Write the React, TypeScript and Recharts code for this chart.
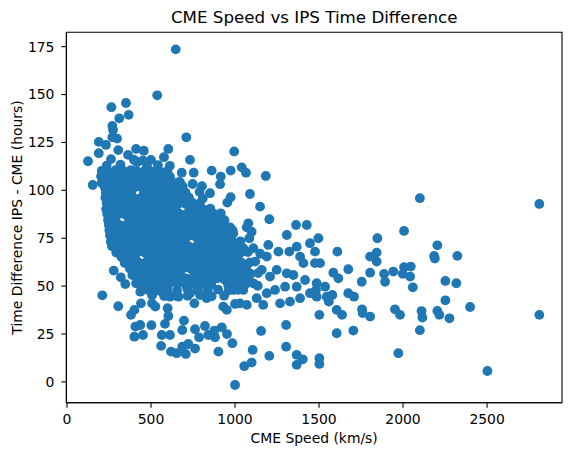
import React from 'react';
import { ScatterChart, Scatter, XAxis, YAxis, ReferenceArea } from 'recharts';

// [CME speed (km/s), time difference IPS - CME (hours)]
const upperPoints: [number, number][] = [
  [647,173.6],[537,149.6],[351,145.6],[264,143.4],[367,139.4],[311,137.6],[270,133.6],[274,131.5],
  [710,127.7],[270,127.7],[298,127],[189,125.3],[232,123.7],[603,121.6],[995,120.3],[411,121.6],
  [457,120.7],[189,119.4],[305,121],[125,115.2],[732,115.9],[577,117.3],[500,115.9],[417,114.7],
  [363,118.5],[1040,112],[683,109.2],[754,109.2],[153,102.8],[207,104],[228,108],[674,104],
  [748,103.3],[633,99.3],[246,96.7],
];

const midPoints: [number, number][] = [
  [861,110.3],[915,107.2],[974,110.3],[1065,109.2],[1183,107.5],[911,103.2],[851,98.5],[974,96.4],
  [954,93.6],[1089,98.1],[1149,91.5],[1204,84.9],[915,88],[907,83.7],[1079,82.8],[1070,80.7],
  [1099,78.4],[970,80.7],[990,77.6],[1085,75],[1363,81.9],[1427,81.9],[1308,76.7],[1496,75],
  [1446,72.4],[1367,70.6],[1198,71.5],[1258,68],[1323,68],[1109,69.8],[1049,69.8],[1189,65.4],
  [1387,65.4],[1407,62],[1476,62],[1506,62],[1248,58.5],[1308,56.7],[1347,55.8],[1208,55],
  [1159,58.5],[1417,53.2],[1486,51.5],[1536,49.7],[1367,49.7],[1298,49.7],[1238,48],[1446,46.3],
  [1486,44.5],[1387,43.7],[1327,41.9],[1268,41],[1168,40.2],[1070,40.2],[1000,40.7],[930,39.3],
  [1129,43.7],[1189,46.3],[1049,48],[1109,51.5],[1030,52.3],[990,48],[1546,44.5],
  [803,102.2],[789,99.2],[808,95.7],[853,90.4],[937,84.4],[1120,62.8],[1150,66.9],[1135,50.2],
];

const lowerPoints: [number, number][] = [
  [210,45.2],[305,39.5],[278,58.1],[320,54.6],[347,51.1],[381,35],[401,37.6],[407,28.9],
  [436,29.7],[401,23.6],[452,24.5],[502,29.6],[440,41],[506,41],[526,39.3],[599,38.5],
  [603,34.4],[583,30.3],[564,24.5],[613,24.5],[560,18.8],[619,15.8],[653,15],[686,18.4],
  [707,14.6],[722,19.8],[762,17.4],[696,32],[686,27.1],[762,27.5],[786,23.3],[821,29.2],
  [841,24.5],[881,23.3],[877,26.8],[921,28.5],[952,25],[984,20.2],[901,15.8],[1055,8.2],
  [1000,-1.6],[758,41],[951,37.6],[436,47.1],[411,51.5],[345,62],[276,75.8],[270,71.5],
  [256,80.2],[389,55.8],[524,48],[564,47.1],[613,44.5],[663,44.5],[732,46.3],[831,43.7],[1030,41],
];

const farPoints: [number, number][] = [
  [1847,75],[2006,78.8],[2100,95.9],[1609,68],[1804,65.4],[1843,67.5],[1843,62.8],[1476,68],
  [1674,58.8],[1804,57],[1754,52.3],[1887,56.4],[1942,57.6],[2006,59.9],[2046,60.2],[2042,55],
  [1893,52.3],[2058,49.4],[1585,57],[1615,54.1],[1482,48],[1558,41.9],[1579,45.4],[1605,37.6],
  [1637,35],[1674,46.3],[1708,44.5],[1756,37.9],[1760,35.9],[1804,34.1],[1952,37.9],[1982,35],
  [2110,37],[2100,27],[1972,15],[1704,26.8],[1605,25.4],[1502,35],[1304,29.7],[1155,26.6],
  [1105,16.7],[1099,10.1],[1204,13.6],[1304,18.4],[1367,14.1],[1403,11.8],[1367,8.9],[1502,12.4],
  [1502,9.4],[2204,71.3],[2185,65.8],[2189,64.4],[2323,65.8],[1998,56.4],[2252,52.7],[2317,51.5],
  [2252,42.6],[2399,39.1],[2115,33.6],[2204,37.1],[2216,35],[2276,33.2],[2502,5.7],[2811,92.9],
  [2811,35],
];

const coreUpper: [number, number][] = [
  [262,116.3],[398,116.0],[452,115.6],
  [236,112.9],[318,113.4],[476,112.6],[541,113.2],[612,112.8],
  [207,110.2],[246,109.8],[289,110.5],[335,110.1],[381,110.6],[418,109.9],[463,110.3],[512,109.7],[547,110.4],[596,110.0],
  [203,107.4],[239,107.9],[281,107.5],[317,107.8],[362,107.3],[399,107.7],[441,107.6],[484,107.2],[526,107.9],[569,107.5],[612,107.3],
  [219,104.9],[258,104.5],[297,104.8],[342,104.4],[378,104.9],[421,104.6],[459,104.3],[503,104.8],[542,104.5],[587,104.9],[624,104.6],[668,104.4],
  [224,101.7],[279,102.1],[318,101.8],[361,102.2],[402,101.6],[437,101.9],[478,102.0],[521,101.7],[563,102.1],[601,101.8],[641,101.6],[689,102.0],
  [231,99.2],[262,98.8],[301,99.1],[339,98.9],[383,99.3],[458,99.0],[497,99.2],[541,98.8],[582,99.1],[622,98.9],[663,99.3],[706,98.8],
  [228,96.2],[283,95.9],[322,96.3],[362,96.0],[401,95.8],[441,96.2],[479,96.1],[519,95.7],[561,96.3],[603,95.9],[644,96.1],[684,95.8],[726,96.2],
  [236,93.4],[264,93.0],[303,93.3],[344,92.9],[384,93.4],[423,93.1],[462,93.0],[501,93.5],[542,93.2],[583,92.9],[626,93.3],[665,93.1],[707,92.8],[748,93.4],[790,93.2],
  [233,90.2],[285,90.6],[325,90.3],[366,90.5],[405,90.1],[444,90.6],[483,90.4],[523,90.2],[564,90.5],[604,90.3],[646,90.7],[729,90.4],[770,90.6],[811,90.1],
];

const coreMiddle: [number, number][] = [
  [239,87.7],[266,87.3],[307,87.6],[347,87.4],[388,87.8],[426,87.2],[466,87.5],[505,87.7],[546,87.3],[587,87.6],[627,87.4],[668,87.8],[709,87.5],[751,87.2],[792,87.6],[834,87.4],[874,87.7],
  [244,84.5],[288,84.9],[369,84.8],[409,84.4],[448,84.7],[487,84.9],[528,84.5],[569,84.8],[609,84.6],[649,84.4],[690,84.9],[731,84.7],[772,84.5],[813,84.8],[855,84.6],[896,84.9],
  [249,81.9],[270,81.6],[311,82.0],[351,81.7],[391,81.9],[431,81.5],[470,81.8],[511,82.0],[552,81.6],[592,81.9],[632,81.7],[673,82.1],[714,81.8],[755,81.6],[797,81.9],[838,81.7],[878,82.0],[919,81.5],
  [252,79.2],[292,78.8],[333,79.1],[374,78.9],[413,79.3],[452,78.7],[492,79.0],[533,79.2],[573,78.8],[613,79.1],[654,78.9],[695,79.3],[736,78.8],[777,79.0],[819,79.2],[860,78.9],[901,79.1],[942,78.8],[985,79.2],
  [256,76.4],[276,76.0],[316,76.3],[356,76.1],[396,76.5],[435,75.9],[474,76.2],[515,76.4],[556,76.0],[596,76.3],[637,76.1],[677,76.5],[718,76.0],[759,76.2],[801,76.4],[842,75.9],[883,76.3],[924,76.1],[966,76.4],
  [261,73.2],[297,73.6],[338,73.3],[379,73.5],[417,73.1],[456,73.4],[497,73.7],[538,73.2],[578,73.5],[618,73.3],[659,73.6],[700,73.1],[782,73.6],[823,73.2],[864,73.5],[905,73.3],[947,73.6],[988,73.2],[1032,73.4],
  [268,70.8],[322,70.4],[361,70.7],[400,70.5],[440,70.9],[479,70.3],[519,70.6],[560,70.8],[600,70.4],[641,70.7],[682,70.5],[723,70.9],[764,70.4],[805,70.6],[846,70.8],[887,70.3],[929,70.7],[970,70.5],[1012,70.8],
];

const coreLower: [number, number][] = [
  [293,67.6],[343,68.0],[383,67.7],[422,67.9],[462,67.5],[501,67.8],[541,68.1],[582,67.6],[622,67.9],[663,67.7],[704,68.0],[745,67.5],[786,67.8],[828,68.1],[869,67.6],[910,67.9],[951,67.7],[993,68.0],[1035,67.6],[1076,67.8],
  [324,65.2],[366,64.8],[405,65.1],[484,65.3],[523,64.7],[564,65.0],[604,65.2],[645,64.8],[686,65.1],[727,64.9],[768,65.3],[810,64.8],[851,65.0],[892,65.2],[933,64.9],[975,65.1],[1017,64.8],
  [343,62.4],[388,62.0],[427,62.3],[466,62.1],[506,62.5],[546,61.9],[587,62.2],[627,62.4],[668,62.0],[709,62.3],[750,62.1],[791,62.5],[833,62.0],[874,62.2],[915,62.4],[957,61.9],[998,62.3],[1041,62.1],[1088,62.4],
  [374,59.2],[411,59.6],[450,59.3],[489,59.5],[528,59.1],[569,59.4],[609,59.7],[650,59.2],[691,59.5],[732,59.3],[773,59.6],[814,59.1],[856,59.4],[897,59.6],[938,59.2],[980,59.5],[1022,59.3],[1066,59.6],
  [402,56.8],[436,56.4],[474,56.7],[513,56.5],[553,56.9],[593,56.3],[634,56.6],[675,56.8],[757,56.7],[798,56.5],[839,56.9],[880,56.4],[922,56.6],[963,56.8],[1005,56.3],[1048,56.7],[1091,56.5],[1137,56.8],
  [433,53.6],[479,54.0],[524,53.7],[571,53.9],[617,53.5],[662,53.8],[708,54.1],[753,53.6],[799,53.9],[845,53.7],[891,54.0],[936,53.5],[982,53.8],[1030,53.6],[1078,53.9],
  [452,51.2],[505,50.8],[556,51.1],[605,50.9],[657,51.3],[707,50.7],[756,51.0],[808,51.2],[858,50.8],[958,50.9],[1008,51.3],[1061,50.8],
  [472,48.2],[534,47.8],[597,48.1],[655,47.9],[717,48.3],[779,47.7],[838,48.0],[899,48.2],[962,47.8],[1018,48.1],
  [506,45.2],[578,44.8],[646,45.1],[718,44.9],[792,45.3],[861,44.7],[935,45.0],
];

const xTicks = [0, 500, 1000, 1500, 2000, 2500];
const yTicks = [0, 25, 50, 75, 100, 125, 150, 175];
const xDomain: [number, number] = [-3.6, 2946];
const yDomain: [number, number] = [-10.9, 182.5];

const title = 'CME Speed vs IPS Time Difference';
const xLabel = 'CME Speed (km/s)';
const yLabel = 'Time Difference IPS - CME (hours)';

const data = [
  ...upperPoints, ...midPoints, ...lowerPoints, ...farPoints,
  ...coreUpper, ...coreMiddle, ...coreLower,
].map(([speed, hours]) => ({ speed, hours }));

const FONT = "'DejaVu Sans', sans-serif";
const BLUE = '#1f77b4';
const W = 563;
const H = 447;

const Dot = (props: any) => (
  <circle cx={props.cx} cy={props.cy} r={4.9} fill={BLUE} />
);

const tickStyle = { fill: '#000', fontSize: 13.9, fontFamily: FONT };
const lineStyle = { stroke: '#000', strokeWidth: 1.1 };

export default function App() {
  return (
    <div style={{ position: 'relative', width: W, height: H }}>
      <ScatterChart width={W} height={H} margin={{ top: 24.3, right: 9, bottom: 22.2, left: 0 }}>
        <XAxis
          type="number"
          dataKey="speed"
          domain={xDomain}
          ticks={xTicks}
          allowDataOverflow
          height={30}
          tickSize={5}
          tickMargin={6}
          tick={tickStyle}
          axisLine={lineStyle}
          tickLine={lineStyle}
        />
        <YAxis
          type="number"
          dataKey="hours"
          domain={yDomain}
          ticks={yTicks}
          allowDataOverflow
          width={58.4}
          tickSize={5}
          tickMargin={7}
          tick={tickStyle}
          axisLine={lineStyle}
          tickLine={lineStyle}
        />
        <Scatter
          data={data}
          shape={Dot}
          fill={BLUE}
          isAnimationActive={false}
        />
        <ReferenceArea
          x1={xDomain[0]}
          x2={xDomain[1]}
          y1={yDomain[0]}
          y2={yDomain[1]}
          fill="none"
          fillOpacity={0}
          stroke="#000"
          strokeWidth={1.1}
          ifOverflow="visible"
        />
      </ScatterChart>
      <svg
        width={W}
        height={H}
        style={{ position: 'absolute', left: 0, top: 0, pointerEvents: 'none' }}
      >
        <text x={306.2} y={15.3} textAnchor="middle" fontSize={16.7} fontFamily={FONT} fill="#000">
          {title}
        </text>
        <text x={306.2} y={434.8} textAnchor="middle" fontSize={13.9} fontFamily={FONT} fill="#000">
          {xLabel}
        </text>
        <text
          x={13.8}
          y={209.5}
          textAnchor="middle"
          fontSize={13.9}
          fontFamily={FONT}
          fill="#000"
          transform="rotate(-90 13.8 209.5)"
        >
          {yLabel}
        </text>
      </svg>
    </div>
  );
}
